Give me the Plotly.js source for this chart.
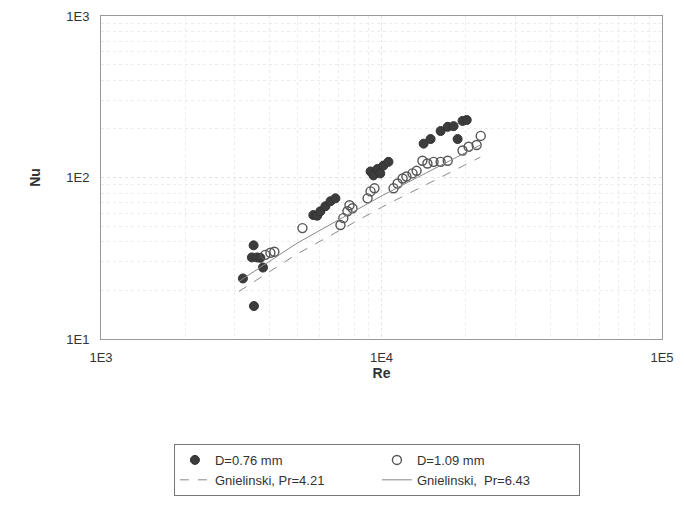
<!DOCTYPE html>
<html>
<head>
<meta charset="utf-8">
<script src="https://cdn.plot.ly/plotly-3.0.1.min.js"></script>
<style>html,body{margin:0;padding:0;background:#fff;}#chart{width:684px;height:508px;}</style>
</head>
<body>
<div id="chart"></div>
<script>
// D = 0.76 mm (filled circles)
const re076 = [3206, 3510, 3500, 3450, 3600, 3700, 3780,
               5715, 5900, 6055, 6310, 6580, 6850,
               9140, 9360, 9680, 9900, 10160, 10590,
               14130, 14960, 16250, 17220, 18070, 18680, 19450, 20130];
const nu076 = [23.7, 16.0, 38.0, 32.0, 32.0, 31.8, 27.7,
               58.5, 58.0, 61.8, 66.4, 71.3, 74.3,
               109, 103, 113, 106, 118.5, 125,
               162, 173, 194, 206, 208, 173, 224, 227];
// D = 1.09 mm (open circles)
const re109 = [3852, 4016, 4150, 5225,
               7140, 7310, 7560, 7690, 7880,
               8920, 9140, 9440,
               11040, 11410, 11890, 12270, 12900, 13340,
               13990, 14580, 15340, 16250, 17220, 19450, 20450, 21840, 22580];
const nu109 = [33.2, 34.2, 34.7, 48.6,
               50.8, 56.0, 61.8, 67.3, 64.5,
               74.3, 82.0, 85.7,
               85.7, 91.8, 98.6, 101.5, 106, 110,
               127, 122, 125, 125, 127, 147, 155, 159, 181];
// Gnielinski curves
const reLine = [3100, 5000, 10000, 15000, 22500];
const nuPr421 = [19.7, 33.6, 65.4, 93.9, 133.6];
const nuPr643 = [22.7, 39.2, 76.9, 111.1, 158.9];
// tick labels
const xTickVals = [1000, 10000, 100000];
const xTickText = ['1E3', '1E4', '1E5'];
const yTickVals = [10, 100, 1000];
const yTickText = ['1E1', '1E2', '1E3'];
const xMinor = [2000,3000,4000,5000,6000,7000,8000,9000,20000,30000,40000,50000,60000,70000,80000,90000];
const yMinor = [20,30,40,50,60,70,80,90,200,300,400,500,600,700,800,900];

const traces = [
  {x: re076, y: nu076, name: 'D=0.76 mm', type: 'scatter', mode: 'markers',
   marker: {symbol: 'circle', size: 9, color: '#3c3c3c', line: {color: '#333', width: 1}}},
  {x: re109, y: nu109, name: 'D=1.09 mm', type: 'scatter', mode: 'markers',
   marker: {symbol: 'circle-open', size: 9, color: '#555', line: {width: 1.4}}},
  {x: reLine, y: nuPr421, name: 'Gnielinski, Pr=4.21', type: 'scatter', mode: 'lines',
   line: {color: '#8a8a8a', width: 1, dash: 'dash'}},
  {x: reLine, y: nuPr643, name: 'Gnielinski,  Pr=6.43', type: 'scatter', mode: 'lines',
   line: {color: '#8a8a8a', width: 1}}
];

const layout = {
  width: 684, height: 508,
  margin: {l: 101, r: 22, t: 16, b: 166},
  paper_bgcolor: '#fff', plot_bgcolor: '#fff',
  font: {family: 'Liberation Sans, Arial, sans-serif', color: '#333'},
  showlegend: true,
  legend: {orientation: 'h', x: 0.13, xanchor: 'left', y: -0.325, yanchor: 'top',
           entrywidth: 157, bordercolor: '#777', borderwidth: 1, bgcolor: '#fff',
           font: {size: 13, color: '#333'}, tracegroupgap: 0},
  xaxis: {type: 'log', range: [3, 5], tickvals: xTickVals, ticktext: xTickText,
          ticks: '', ticklabelstandoff: 6,
          showgrid: true, gridcolor: '#e3e3e3', griddash: 'dot', gridwidth: 1,
          minor: {tickvals: xMinor, showgrid: true, gridcolor: '#ececec', griddash: 'dot', ticks: ''},
          showline: true, mirror: true, linecolor: '#999', linewidth: 1, zeroline: false,
          tickfont: {size: 13, color: '#333'},
          title: {text: '<b>Re</b>', font: {size: 14, color: '#333'}, standoff: 3}},
  yaxis: {type: 'log', range: [1, 3], tickvals: yTickVals, ticktext: yTickText,
          ticks: '', ticklabelstandoff: 8,
          showgrid: true, gridcolor: '#e3e3e3', griddash: 'dot', gridwidth: 1,
          minor: {tickvals: yMinor, showgrid: true, gridcolor: '#ececec', griddash: 'dot', ticks: ''},
          showline: true, mirror: true, linecolor: '#999', linewidth: 1, zeroline: false,
          tickfont: {size: 13, color: '#333'},
          title: {text: '<b>Nu</b>', font: {size: 14, color: '#333'}, standoff: 22}}
};

Plotly.newPlot('chart', traces, layout, {displayModeBar: false, staticPlot: true});
</script>
</body>
</html>
